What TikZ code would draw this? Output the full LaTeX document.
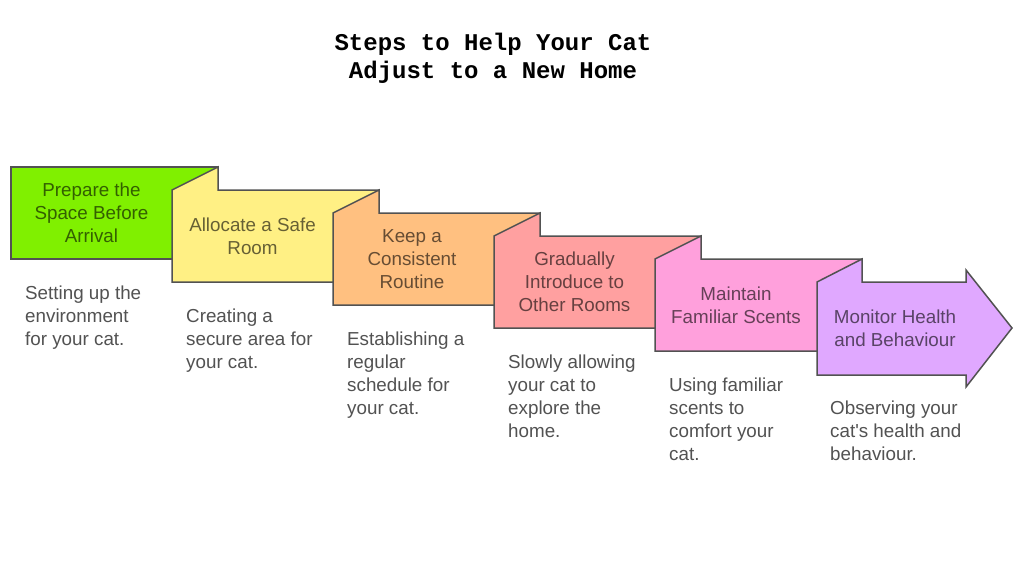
\documentclass[tikz,border=0pt]{standalone}
\usepackage{fontspec}
\setmainfont{Liberation Sans}
\newfontfamily\titlefont{Liberation Mono}
\begin{document}
\begin{tikzpicture}[x=1pt,y=-1pt,
  boxline/.style={draw=black!68, line width=1.5pt, line join=miter},
  boxtext/.style={font=\fontsize{18.8}{23}\selectfont, align=center, text=black, text opacity=0.6, inner sep=0pt},
  desctext/.style={font=\fontsize{18.8}{23}\selectfont, align=left, text=black!68, inner sep=0pt, anchor=north west},
]
\definecolor{cA}{HTML}{80F000}
\definecolor{cB}{HTML}{FFF084}
\definecolor{cC}{HTML}{FFC080}
\definecolor{cD}{HTML}{FFA0A0}
\definecolor{cE}{HTML}{FFA0DC}
\definecolor{cF}{HTML}{E0A8FF}
\useasboundingbox[fill=white] (0,0) rectangle (1024,576);

% title
\node[font=\titlefont\bfseries\fontsize{24}{28}\selectfont, align=center, inner sep=0pt] (title) at (493,58) {Steps to Help Your Cat\\Adjust to a New Home};

% box 1
\draw[boxline, fill=cA] (11,167) rectangle (218,259);
% box 2
\draw[boxline, fill=cB] (172,190) -- (218,167) -- (218,190) -- (379,190) -- (379,282) -- (172,282) -- cycle;
% box 3
\draw[boxline, fill=cC] (333,213) -- (379,190) -- (379,213) -- (540,213) -- (540,305) -- (333,305) -- cycle;
% box 4
\draw[boxline, fill=cD] (494,236) -- (540,213) -- (540,236) -- (701,236) -- (701,328) -- (494,328) -- cycle;
% box 5
\draw[boxline, fill=cE] (655,259) -- (701,236) -- (701,259) -- (862,259) -- (862,351) -- (655,351) -- cycle;
% box 6 (arrow)
\draw[boxline, fill=cF] (817,282) -- (862,259) -- (862,282) -- (966,282) -- (966,270) -- (1012,328) -- (966,387) -- (966,375) -- (817,375) -- cycle;

% box labels
\node[boxtext] (t1) at (91.5,213) {Prepare the\\Space Before\\Arrival};
\node[boxtext] (t2) at (252.5,236) {Allocate a Safe\\Room};
\node[boxtext] (t3) at (412,259) {Keep a\\Consistent\\Routine};
\node[boxtext] (t4) at (574.5,282) {Gradually\\Introduce to\\Other Rooms};
\node[boxtext] (t5) at (736,305) {Maintain\\Familiar Scents};
\node[boxtext] (t6) at (895,328) {Monitor Health\\and Behaviour};

% descriptions
\node[desctext] (d1) at (25,286) {Setting up the\\environment\\for your cat.};
\node[desctext] (d2) at (186,309) {Creating a\\secure area for\\your cat.};
\node[desctext] (d3) at (347,332) {Establishing a\\regular\\schedule for\\your cat.};
\node[desctext] (d4) at (508,355) {Slowly allowing\\your cat to\\explore the\\home.};
\node[desctext] (d5) at (669,378) {Using familiar\\scents to\\comfort your\\cat.};
\node[desctext] (d6) at (830,401) {Observing your\\cat\textquotesingle s health and\\behaviour.};
\end{tikzpicture}
\end{document}
